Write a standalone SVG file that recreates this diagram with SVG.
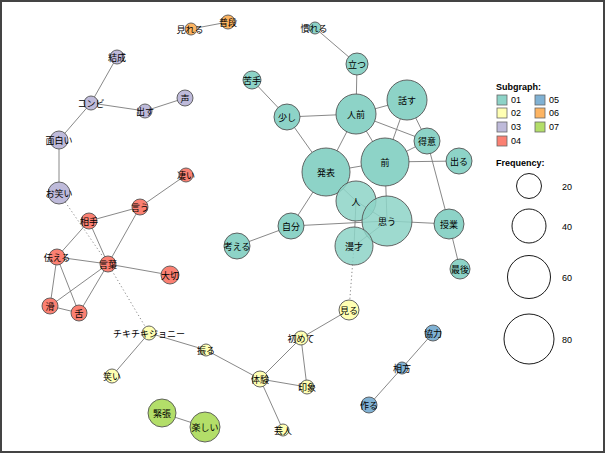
<svg xmlns="http://www.w3.org/2000/svg" width="606" height="454" viewBox="0 0 606 454">
<style>
text{font-family:"Noto Sans CJK JP","Liberation Sans",sans-serif;font-size:9px;fill:#000;text-anchor:middle;dominant-baseline:central}
.n{stroke:#555;stroke-width:0.9}
.c1{fill:#8DD3C7}.c2{fill:#FFFFB3}.c3{fill:#BEBADA}.c4{fill:#FB8072}.c5{fill:#80B1D3}.c6{fill:#FDB462}.c7{fill:#B3DE69}
#edges line{stroke:#7a7a7a;stroke-width:0.9}
#edges .d{stroke-dasharray:1.2 2.5}
.lg{text-anchor:start;font-family:"Liberation Sans",sans-serif;font-size:9px}
.lb{font-weight:bold}
.sw{stroke:#666;stroke-width:0.8}
.fc{fill:none;stroke:#000;stroke-width:0.9}
</style>
<rect x="0" y="0" width="606" height="454" fill="#fff"/>
<rect x="1" y="1" width="603" height="451" fill="none" stroke="#444" stroke-width="2"/>
<g id="edges">
<line x1="191" y1="29" x2="228" y2="22"/>
<line x1="315" y1="28" x2="357" y2="64"/>
<line x1="357" y1="64" x2="356" y2="114"/>
<line x1="252" y1="80" x2="287" y2="117"/>
<line x1="287" y1="117" x2="356" y2="114"/>
<line x1="287" y1="117" x2="326" y2="172"/>
<line x1="356" y1="114" x2="407" y2="100"/>
<line x1="356" y1="114" x2="427" y2="141"/>
<line x1="356" y1="114" x2="326" y2="172"/>
<line x1="356" y1="114" x2="385" y2="162"/>
<line x1="407" y1="100" x2="427" y2="141"/>
<line x1="407" y1="100" x2="385" y2="162"/>
<line x1="427" y1="141" x2="385" y2="162"/>
<line x1="427" y1="141" x2="449" y2="224"/>
<line x1="385" y1="162" x2="459" y2="161"/>
<line x1="385" y1="162" x2="387" y2="221"/>
<line x1="385" y1="162" x2="326" y2="172"/>
<line x1="326" y1="172" x2="356" y2="201"/>
<line x1="326" y1="172" x2="291" y2="226"/>
<line x1="356" y1="201" x2="387" y2="221"/>
<line x1="356" y1="201" x2="354" y2="246"/>
<line x1="291" y1="226" x2="387" y2="221"/>
<line x1="291" y1="226" x2="237" y2="246"/>
<line x1="387" y1="221" x2="449" y2="224"/>
<line x1="387" y1="221" x2="354" y2="246"/>
<line x1="449" y1="224" x2="460" y2="269"/>
<line class="d" x1="354" y1="246" x2="349" y2="310"/>
<line class="d" x1="59" y1="193" x2="108" y2="264"/>
<line class="d" x1="108" y1="264" x2="149" y2="333"/>
<line x1="117" y1="57" x2="91" y2="103"/>
<line x1="91" y1="103" x2="145" y2="111"/>
<line x1="145" y1="111" x2="185" y2="98"/>
<line x1="91" y1="103" x2="59" y2="140"/>
<line x1="59" y1="140" x2="59" y2="193"/>
<line x1="186" y1="175" x2="140" y2="207"/>
<line x1="140" y1="207" x2="89" y2="221"/>
<line x1="140" y1="207" x2="108" y2="264"/>
<line x1="89" y1="221" x2="57" y2="257"/>
<line x1="89" y1="221" x2="108" y2="264"/>
<line x1="57" y1="257" x2="108" y2="264"/>
<line x1="57" y1="257" x2="50" y2="306"/>
<line x1="57" y1="257" x2="79" y2="313"/>
<line x1="108" y1="264" x2="50" y2="306"/>
<line x1="108" y1="264" x2="79" y2="313"/>
<line x1="108" y1="264" x2="170" y2="275"/>
<line x1="50" y1="306" x2="79" y2="313"/>
<line x1="349" y1="310" x2="301" y2="338"/>
<line x1="301" y1="338" x2="260" y2="379"/>
<line x1="301" y1="338" x2="307" y2="387"/>
<line x1="260" y1="379" x2="307" y2="387"/>
<line x1="260" y1="379" x2="283" y2="430"/>
<line x1="260" y1="379" x2="206" y2="350"/>
<line x1="206" y1="350" x2="149" y2="333"/>
<line x1="149" y1="333" x2="112" y2="376"/>
<line x1="433" y1="333" x2="402" y2="368"/>
<line x1="402" y1="368" x2="369" y2="405"/>
<line x1="162" y1="413" x2="205" y2="427"/>
</g>
<g id="n-mireru"><circle class="n c6" cx="191" cy="29" r="6"/><text x="190" y="29">見れる</text></g>
<g id="n-fudan"><circle class="n c6" cx="228" cy="22" r="7"/><text x="228" y="22">普段</text></g>
<g id="n-nareru"><circle class="n c1" cx="315" cy="28" r="6"/><text x="314" y="28">慣れる</text></g>
<g id="n-tatsu"><circle class="n c1" cx="357" cy="64" r="11"/><text x="357" y="64">立つ</text></g>
<g id="n-nigate"><circle class="n c1" cx="252" cy="80" r="9"/><text x="252" y="80">苦手</text></g>
<g id="n-sukoshi"><circle class="n c1" cx="287" cy="117" r="13"/><text x="287" y="117">少し</text></g>
<g id="n-hitomae"><circle class="n c1" cx="356" cy="114" r="20"/><text x="356" y="114">人前</text></g>
<g id="n-hanasu"><circle class="n c1" cx="407" cy="100" r="20"/><text x="407" y="100">話す</text></g>
<g id="n-tokui"><circle class="n c1" cx="427" cy="141" r="13"/><text x="427" y="141">得意</text></g>
<g id="n-deru"><circle class="n c1" cx="459" cy="161" r="13"/><text x="459" y="161">出る</text></g>
<g id="n-mae"><circle class="n c1" cx="385" cy="162" r="24"/><text x="385" y="162">前</text></g>
<g id="n-happyo"><circle class="n c1" cx="326" cy="172" r="24"/><text x="326" y="172">発表</text></g>
<g id="n-hito"><circle class="n c1" cx="356" cy="201" r="20" fill-opacity="0.85"/><text x="356" y="201">人</text></g>
<g id="n-omou"><circle class="n c1" cx="387" cy="221" r="25" fill-opacity="0.85"/><text x="387" y="221">思う</text></g>
<g id="n-jibun"><circle class="n c1" cx="291" cy="226" r="13"/><text x="291" y="226">自分</text></g>
<g id="n-kangaeru"><circle class="n c1" cx="237" cy="246" r="13"/><text x="237" y="246">考える</text></g>
<g id="n-manzai"><circle class="n c1" cx="354" cy="246" r="19" fill-opacity="0.85"/><text x="354" y="246">漫才</text></g>
<g id="n-jugyo"><circle class="n c1" cx="449" cy="224" r="15"/><text x="449" y="224">授業</text></g>
<g id="n-saigo"><circle class="n c1" cx="460" cy="269" r="10"/><text x="460" y="269">最後</text></g>
<g id="n-kessei"><circle class="n c3" cx="117" cy="57" r="7"/><text x="117" y="57">結成</text></g>
<g id="n-konbi"><circle class="n c3" cx="91" cy="103" r="7"/><text x="91" y="103">コンビ</text></g>
<g id="n-dasu"><circle class="n c3" cx="145" cy="111" r="7"/><text x="145" y="111">出す</text></g>
<g id="n-koe"><circle class="n c3" cx="185" cy="98" r="8"/><text x="185" y="98">声</text></g>
<g id="n-omoshiroi"><circle class="n c3" cx="59" cy="140" r="9"/><text x="59" y="140">面白い</text></g>
<g id="n-owarai"><circle class="n c3" cx="59" cy="193" r="11"/><text x="59" y="193">お笑い</text></g>
<g id="n-sugoi"><circle class="n c4" cx="186" cy="175" r="7"/><text x="186" y="175">凄い</text></g>
<g id="n-iu"><circle class="n c4" cx="140" cy="207" r="8"/><text x="140" y="207">言う</text></g>
<g id="n-aite"><circle class="n c4" cx="89" cy="221" r="8"/><text x="89" y="221">相手</text></g>
<g id="n-tsutaeru"><circle class="n c4" cx="57" cy="257" r="8"/><text x="57" y="257">伝える</text></g>
<g id="n-kotoba"><circle class="n c4" cx="108" cy="264" r="8"/><text x="108" y="264">言葉</text></g>
<g id="n-taisetsu"><circle class="n c4" cx="170" cy="275" r="9"/><text x="170" y="275">大切</text></g>
<g id="n-katsu"><circle class="n c4" cx="50" cy="306" r="8"/><text x="50" y="306">滑</text></g>
<g id="n-shita"><circle class="n c4" cx="79" cy="313" r="8"/><text x="79" y="313">舌</text></g>
<g id="n-miru"><circle class="n c2" cx="349" cy="310" r="10"/><text x="349" y="310">見る</text></g>
<g id="n-hajimete"><circle class="n c2" cx="301" cy="338" r="7"/><text x="301" y="338">初めて</text></g>
<g id="n-taiken"><circle class="n c2" cx="260" cy="379" r="8"/><text x="260" y="379">体験</text></g>
<g id="n-insho"><circle class="n c2" cx="307" cy="387" r="7"/><text x="307" y="387">印象</text></g>
<g id="n-geinin"><circle class="n c2" cx="283" cy="430" r="6"/><text x="283" y="430">芸人</text></g>
<g id="n-furu"><circle class="n c2" cx="206" cy="350" r="6"/><text x="206" y="350">振る</text></g>
<g id="n-chikichiki"><circle class="n c2" cx="149" cy="333" r="7"/><text x="149" y="333">チキチキジョニー</text></g>
<g id="n-warai"><circle class="n c2" cx="112" cy="376" r="7"/><text x="112" y="376">笑い</text></g>
<g id="n-kyoryoku"><circle class="n c5" cx="433" cy="333" r="8"/><text x="433" y="333">協力</text></g>
<g id="n-aikata"><circle class="n c5" cx="402" cy="368" r="6"/><text x="402" y="368">相方</text></g>
<g id="n-tsukuru"><circle class="n c5" cx="369" cy="405" r="8"/><text x="369" y="405">作る</text></g>
<g id="n-kincho"><circle class="n c7" cx="162" cy="413" r="14"/><text x="162" y="413">緊張</text></g>
<g id="n-tanoshii"><circle class="n c7" cx="205" cy="427" r="15"/><text x="205" y="427">楽しい</text></g>
<g id="legend">
<text class="lg lb" x="496" y="87">Subgraph:</text>
<rect class="sw c1" x="497" y="95" width="10" height="10"/><text class="lg" x="511" y="100">01</text>
<rect class="sw c2" x="497" y="108" width="10" height="10"/><text class="lg" x="511" y="113">02</text>
<rect class="sw c3" x="497" y="122" width="10" height="10"/><text class="lg" x="511" y="127">03</text>
<rect class="sw c4" x="497" y="136" width="10" height="10"/><text class="lg" x="511" y="141">04</text>
<rect class="sw c5" x="535" y="95" width="10" height="10"/><text class="lg" x="549" y="100">05</text>
<rect class="sw c6" x="535" y="108" width="10" height="10"/><text class="lg" x="549" y="113">06</text>
<rect class="sw c7" x="535" y="122" width="10" height="10"/><text class="lg" x="549" y="127">07</text>
<text class="lg lb" x="496" y="163">Frequency:</text>
<circle class="fc" cx="529" cy="186" r="12.5"/><text class="lg" x="562" y="187">20</text>
<circle class="fc" cx="529" cy="226" r="17"/><text class="lg" x="562" y="227">40</text>
<circle class="fc" cx="529" cy="277" r="21.5"/><text class="lg" x="562" y="278">60</text>
<circle class="fc" cx="529" cy="339" r="25"/><text class="lg" x="562" y="340">80</text>
</g>
</svg>
